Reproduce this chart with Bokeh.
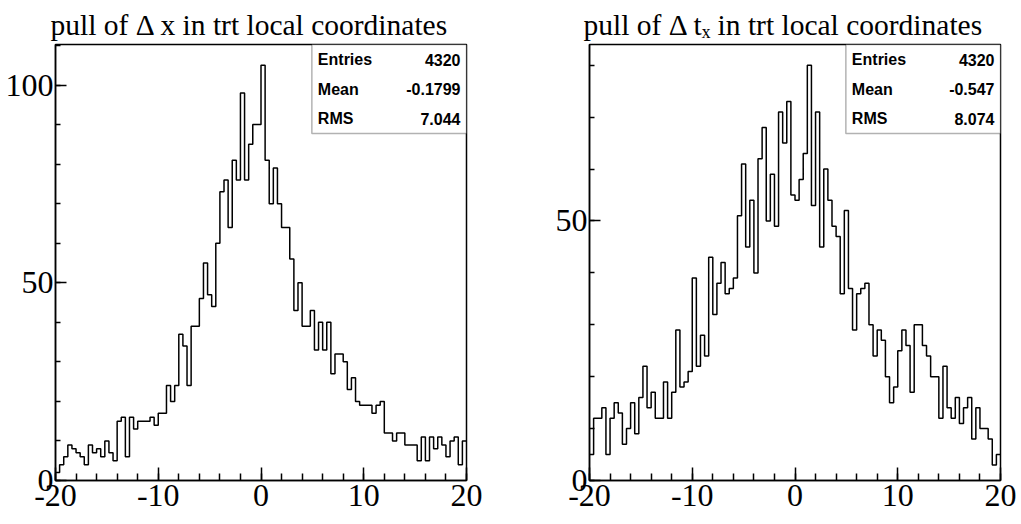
import numpy as np
from bokeh.plotting import figure
from bokeh.layouts import row
from bokeh.models import FixedTicker, Label, BoxAnnotation, Range1d
from bokeh.embed import file_html
from bokeh.resources import INLINE

# ---------------- data ----------------
x_lo, x_hi, n_bins = -20.0, 20.0, 100

left_counts = [
    2, 4, 6, 9, 8, 7, 6, 4, 9, 7,
    8, 6, 10, 7, 5, 15, 16, 6, 16, 13,
    15, 15, 15, 16, 14, 17, 17, 24, 20, 24,
    37, 34, 24, 39, 39, 46, 55, 47, 44, 60,
    73, 76, 64, 81, 76, 98, 76, 85, 90, 90,
    105, 81, 70, 79, 70, 64, 64, 56, 43, 50,
    39, 39, 43, 33, 40, 33, 40, 27, 32, 32,
    30, 23, 26, 20, 19, 19, 19, 17, 19, 20,
    12, 12, 10, 12, 12, 9, 9, 9, 5, 11,
    5, 11, 8, 11, 9, 6, 10, 11, 4, 10,
]

right_counts = [
    5, 12, 12, 14, 5, 12, 15, 13, 7, 10,
    15, 9, 16, 22, 14, 17, 12, 12, 19, 12,
    17, 29, 18, 19, 21, 39, 22, 28, 24, 43,
    32, 38, 42, 36, 37, 39, 51, 61, 45, 54,
    40, 62, 68, 50, 59, 49, 71, 65, 73, 55,
    54, 58, 63, 80, 53, 71, 45, 60, 54, 49,
    47, 36, 52, 37, 29, 36, 37, 38, 30, 24,
    29, 27, 20, 15, 18, 25, 29, 26, 17, 30,
    30, 26, 24, 20, 20, 12, 22, 14, 12, 16,
    11, 14, 16, 8, 14, 10, 10, 8, 3, 5,
]

left_title = "pull of  \u0394 x in trt local coordinates"
right_title = "pull of  \u0394 t\u2093 in trt local coordinates"

left_stats_names = ["Entries", "Mean", "RMS"]
left_stats_values = ["4320", "-0.1799", "7.044"]
right_stats_names = ["Entries", "Mean", "RMS"]
right_stats_values = ["4320", "-0.547", "8.074"]

x_major_ticks = [-20, -10, 0, 10, 20]
x_tick_labels = {-20: "-20", -10: "-10", 0: "0", 10: "10", 20: "20"}
x_minor_ticks = list(range(-20, 21, 2))
left_y_major = [0, 50, 100]
left_y_minor = list(range(0, 111, 10))
right_y_major = [0, 50]
right_y_minor = list(range(0, 81, 10))

edges = np.linspace(x_lo, x_hi, n_bins + 1)

FRAME_H = 436
SERIF = "Liberation Serif"
SANS = "Liberation Sans"


def make_fig(width, bl, br, counts, ymax, ymaj, ymin, title, title_offset):
    p = figure(width=width, height=524,
               x_range=Range1d(x_lo, x_hi), y_range=Range1d(0, ymax),
               output_backend="svg", toolbar_location=None,
               min_border_left=bl, min_border_right=br,
               min_border_top=44, min_border_bottom=44)
    p.background_fill_color = "white"
    p.border_fill_color = "white"
    p.outline_line_color = "black"
    p.outline_line_width = 1.5
    p.xgrid.visible = False
    p.ygrid.visible = False

    p.title.text = title
    p.title.text_font = SERIF
    p.title.text_font_size = "29.5px"
    p.title.text_font_style = "normal"
    p.title.text_color = "black"
    p.title.align = "left"
    p.title.offset = title_offset
    p.title.standoff = 8

    p.xaxis.ticker = FixedTicker(ticks=x_major_ticks, minor_ticks=x_minor_ticks)
    p.xaxis.major_label_overrides = x_tick_labels
    p.yaxis.ticker = FixedTicker(ticks=ymaj, minor_ticks=ymin)
    for ax in (p.xaxis, p.yaxis):
        ax.axis_line_color = "black"
        ax.axis_line_width = 1.5
        ax.major_tick_line_color = "black"
        ax.minor_tick_line_color = "black"
        ax.major_tick_line_width = 1.5
        ax.minor_tick_line_width = 1.5
        ax.major_tick_out = 0
        ax.minor_tick_out = 0
        ax.major_label_text_font = SERIF
        ax.major_label_text_font_size = "32px"
        ax.major_label_text_color = "black"
    p.xaxis.major_tick_in = 13
    p.xaxis.minor_tick_in = 7
    p.yaxis.major_tick_in = 11
    p.yaxis.minor_tick_in = 5
    p.xaxis.major_label_standoff = 4
    p.yaxis.major_label_standoff = 2

    ys = list(counts) + [counts[-1]]
    p.step(x=edges, y=ys, mode="after", line_color="black", line_width=1.5)
    return p


def add_stats(p, ymax, names, values):
    px_per_unit = FRAME_H / ymax
    bottom = ymax - 89 / px_per_unit
    p.add_layout(BoxAnnotation(left=4.95, right=x_hi, top=ymax, bottom=bottom,
                               fill_color="white", fill_alpha=1.0,
                               line_color="black", line_width=1.5))
    for i, (n, v) in enumerate(zip(names, values)):
        off = -(15 + 29.5 * i)
        p.add_layout(Label(x=4.95, y=ymax, x_offset=6, y_offset=off, text=n,
                           text_font=SANS, text_font_style="bold",
                           text_font_size="16px", text_baseline="middle",
                           text_color="black"))
        p.add_layout(Label(x=x_hi, y=ymax, x_offset=-6, y_offset=off, text=v,
                           text_font=SANS, text_font_style="bold",
                           text_font_size="16px", text_baseline="middle",
                           text_align="right", text_color="black"))


left_ymax = 1.05 * max(left_counts)
right_ymax = 1.05 * max(right_counts)

p1 = make_fig(521, 55, 55, left_counts, left_ymax, left_y_major, left_y_minor,
              left_title, -5)
p2 = make_fig(500, 68, 21, right_counts, right_ymax, right_y_major, right_y_minor,
              right_title, -6)

add_stats(p1, left_ymax, left_stats_names, left_stats_values)
add_stats(p2, right_ymax, right_stats_names, right_stats_values)

layout = row(p1, p2)
open("out.html", "w").write(file_html(layout, INLINE))
